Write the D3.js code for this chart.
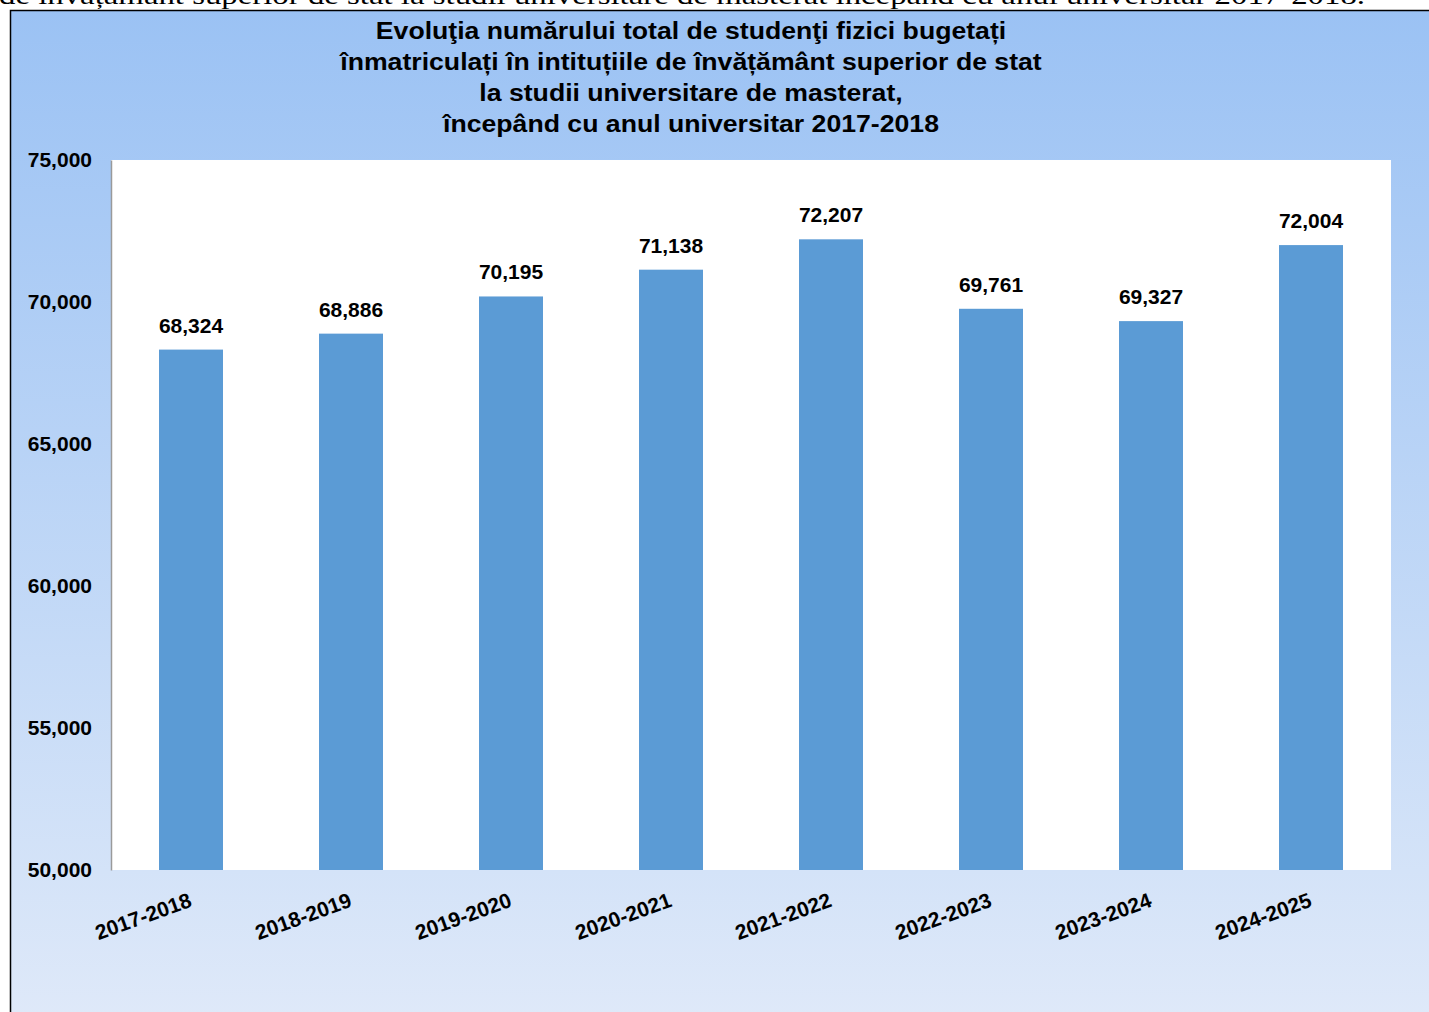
<!DOCTYPE html>
<html><head><meta charset="utf-8">
<script src="https://cdn.jsdelivr.net/npm/d3@7"></script>
<style>html,body{margin:0;padding:0;background:#fff;overflow:hidden}</style>
</head><body>
<script>
const categories = ["2017-2018","2018-2019","2019-2020","2020-2021","2021-2022","2022-2023","2023-2024","2024-2025"];
const values = [68324, 68886, 70195, 71138, 72207, 69761, 69327, 72004];
const yTicks = [50000, 55000, 60000, 65000, 70000, 75000];
const titleLines = ["Evoluţia numărului total de studenţi fizici bugetați","înmatriculați în intituțiile de învățământ superior de stat","la studii universitare de masterat,","începând cu anul universitar 2017-2018"];
const pageText = "de învățământ superior de stat la studii universitare de masterat începând cu anul universitar 2017-2018.";

const W = 1429, H = 1012;
const svg = d3.select("body").append("svg").attr("width", W).attr("height", H);
const defs = svg.append("defs");
const g = defs.append("linearGradient").attr("id","bg").attr("x1",0).attr("y1",0).attr("x2",0).attr("y2",1);
g.append("stop").attr("offset","0%").attr("stop-color","#9bc2f4");
g.append("stop").attr("offset","85%").attr("stop-color","#d4e3f8");
g.append("stop").attr("offset","100%").attr("stop-color","#dfe9f9");

svg.append("text").attr("x", -1).attr("y", 4)
  .attr("font-family","Liberation Serif, Times New Roman, serif").attr("font-size", 25)
  .attr("textLength", 1366).attr("lengthAdjust","spacingAndGlyphs")
  .text(pageText);

svg.append("rect").attr("x",10.5).attr("y",10.5).attr("width",W).attr("height",H)
  .attr("fill","url(#bg)").attr("stroke","#000").attr("stroke-width",1.5);

const plot = {l:111, r:1391, t:160, b:870};
svg.append("rect").attr("x",plot.l).attr("y",plot.t).attr("width",plot.r-plot.l).attr("height",plot.b-plot.t).attr("fill","#fff");

const x = d3.scaleBand().domain(categories).range([plot.l, plot.r]).paddingInner(0.6).paddingOuter(0.3);
const y = d3.scaleLinear().domain([50000, 75000]).range([plot.b, plot.t]);

// title
const tt = svg.append("text").attr("font-family","Liberation Sans, Arial, sans-serif").attr("font-weight","bold")
  .attr("font-size", 23.5).attr("text-anchor","middle").attr("fill","#000")
  .attr("transform","translate(691,0) scale(1.134,1)");
titleLines.forEach((l,i)=> tt.append("tspan").attr("x", 0).attr("y", 39 + i*31).text(l));

// y axis
const yAxis = d3.axisLeft(y).tickValues(yTicks).tickFormat(d3.format(",")).tickSize(0).tickPadding(19);
const ya = svg.append("g").attr("transform",`translate(${plot.l},0)`).call(yAxis);
ya.select(".domain").attr("stroke","#9a9a9a").attr("stroke-width",1.5);
ya.selectAll("text").attr("font-family","Liberation Sans, Arial, sans-serif").attr("font-weight","bold").attr("font-size",21).attr("fill","#000");

// bars
svg.selectAll("rect.bar").data(values).join("rect").attr("class","bar")
  .attr("x",(d,i)=>x(categories[i])).attr("width",x.bandwidth())
  .attr("y",d=>y(d)).attr("height",d=>y(50000)-y(d)).attr("fill","#5b9bd5");

svg.selectAll("text.val").data(values).join("text").attr("class","val")
  .attr("x",(d,i)=>x(categories[i])+x.bandwidth()/2).attr("y",d=>y(d)-17)
  .attr("text-anchor","middle").attr("font-family","Liberation Sans, Arial, sans-serif")
  .attr("font-weight","bold").attr("font-size",21).text(d=>d3.format(",")(d));

// x axis labels
const xAxis = d3.axisBottom(x).tickSize(0).tickPadding(0);
const xa = svg.append("g").attr("transform",`translate(0,${plot.b})`).call(xAxis);
xa.select(".domain").remove();
xa.selectAll("text").attr("font-family","Liberation Sans, Arial, sans-serif").attr("font-weight","bold").attr("font-size",21)
  .attr("fill","#000").attr("text-anchor","end").attr("dy",null).attr("y",0)
  .attr("transform","translate(2,36) rotate(-20)");
</script>
</body></html>
